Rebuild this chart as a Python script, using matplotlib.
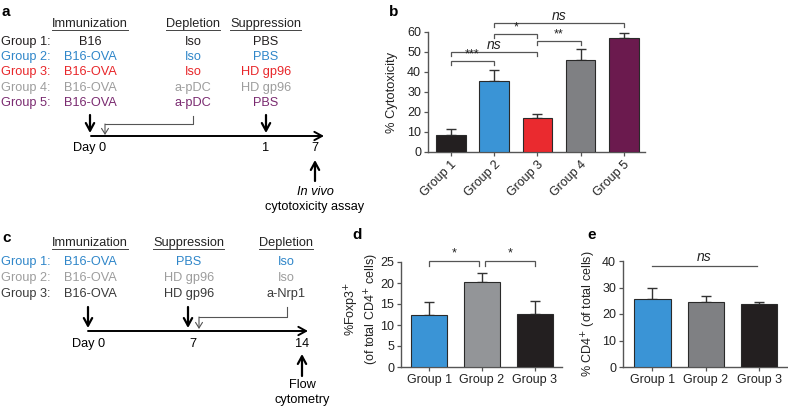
import numpy as np
import matplotlib
matplotlib.use("Agg")
import matplotlib.pyplot as plt

plt.rcParams['font.family'] = ['Liberation Sans', 'DejaVu Sans']

W, H = 788, 408

# ---- colours
BLACK = "#231f20"
BLUE = "#3a94d6"
RED = "#ea2a2f"
GREY = "#7f8083"
LGREY = "#939598"
PURPLE = "#6b1a4e"
T_BLUE = "#2f86c9"
T_RED = "#e8262a"
T_GREY = "#9d9d9d"
T_PURPLE = "#7a2a70"

# ---- panel a schematic text
a_groups = ["Group 1:", "Group 2:", "Group 3:", "Group 4:", "Group 5:"]
a_colors = [BLACK, T_BLUE, T_RED, T_GREY, T_PURPLE]
a_immun = ["B16", "B16-OVA", "B16-OVA", "B16-OVA", "B16-OVA"]
a_deplet = ["Iso", "Iso", "Iso", "a-pDC", "a-pDC"]
a_suppr = ["PBS", "PBS", "HD gp96", "HD gp96", "PBS"]

# ---- panel b
b_groups = ["Group 1", "Group 2", "Group 3", "Group 4", "Group 5"]
b_means = [8.7, 35.5, 17.0, 46.0, 57.0]
b_err = [2.6, 5.5, 2.0, 5.3, 2.3]
b_colors = [BLACK, BLUE, RED, GREY, PURPLE]
b_yticks = [0, 10, 20, 30, 40, 50, 60]
# (from, to, label, end height, top height)
b_brackets = [(0, 1, "***", 43.5, 45.5), (0, 2, "ns", 48.0, 50.2),
              (1, 2, "*", 56.8, 58.8), (2, 3, "**", 53.5, 55.5),
              (1, 4, "ns", 62.3, 64.3)]

# ---- panel c schematic text
c_groups = ["Group 1:", "Group 2:", "Group 3:"]
c_colors = [T_BLUE, T_GREY, "#3a3a3a"]
c_immun = ["B16-OVA", "B16-OVA", "B16-OVA"]
c_suppr = ["PBS", "HD gp96", "HD gp96"]
c_deplet = ["Iso", "Iso", "a-Nrp1"]

# ---- panel d
d_groups = ["Group 1", "Group 2", "Group 3"]
d_means = [12.5, 20.2, 12.7]
d_err = [3.0, 2.3, 3.0]
d_colors = [BLUE, LGREY, BLACK]
d_yticks = [0, 5, 10, 15, 20, 25]
d_brackets = [(0, 0.94, "*", 24.0, 25.2), (1.06, 2, "*", 24.0, 25.2)]

# ---- panel e
e_groups = ["Group 1", "Group 2", "Group 3"]
e_means = [25.5, 24.6, 23.8]
e_err = [4.2, 2.3, 0.7]
e_colors = [BLUE, GREY, BLACK]
e_yticks = [0, 10, 20, 30, 40]
e_line = (0, 1.95, "ns", 38.2)


def px_axes(fig, x0, y0, x1, y1):
    # pixel box (top-left origin) -> figure fraction axes
    return fig.add_axes([x0 / W, (H - y1) / H, (x1 - x0) / W, (y1 - y0) / H])


def bar_panel(ax, means, err, colors, labels, yticks, xlim, fs):
    x = np.arange(len(means))
    ax.bar(x, means, width=0.68, color=colors, edgecolor="#2a2a2a",
           linewidth=0.8, zorder=3)
    ax.errorbar(x, means, yerr=[np.zeros(len(err)), err], fmt="none",
                ecolor="#333333", elinewidth=1.0, capsize=3.6, capthick=1.0,
                zorder=2)
    ax.set_xlim(*xlim)
    ax.set_ylim(yticks[0], yticks[-1])
    ax.set_yticks(yticks)
    ax.set_xticks(x)
    ax.set_xticklabels(labels)
    for s in ["top", "right"]:
        ax.spines[s].set_visible(False)
    for s in ["left", "bottom"]:
        ax.spines[s].set_color("#555555")
        ax.spines[s].set_linewidth(1.0)
    ax.tick_params(direction="out", length=3, width=0.9, color="#555555",
                   labelsize=fs, pad=2, labelcolor="#222222")
    ax.patch.set_alpha(0)


def bracket(ax, x0, x1, lab, y_end, y_top, fs_star=9, fs_ns=10):
    ax.plot([x0, x0, x1, x1], [y_end, y_top, y_top, y_end], color="#555555",
            lw=0.9, clip_on=False, solid_joinstyle="miter")
    if lab == "ns":
        ax.text((x0 + x1) / 2, y_top, "ns", style="italic", fontsize=fs_ns,
                ha="center", va="bottom", color="#222222")
    else:
        ax.text((x0 + x1) / 2, y_top + 0.3, lab, fontsize=fs_star,
                ha="center", va="bottom", color="#222222")


fig = plt.figure(figsize=(W / 100, H / 100), dpi=100)

# ---------------- schematics (pixel coordinates)
sk = fig.add_axes([0, 0, 1, 1])
sk.set_xlim(0, W)
sk.set_ylim(H, 0)
sk.axis("off")

FS = 9.2
headers = []


def header(x, y, s):
    t = sk.text(x, y, s, fontsize=FS, ha="center", va="center", color="#222222")
    headers.append((t, y))


def line_arrow(x0, y0, x1, y1, lw=1.6, color="black", hw=0.3, hl=0.55):
    sk.annotate("", xy=(x1, y1), xytext=(x0, y0),
                arrowprops=dict(arrowstyle="->,head_width=%g,head_length=%g" % (hw, hl),
                                lw=lw, color=color, shrinkA=0, shrinkB=0))


# panel a
sk.text(2, 12, "a", fontsize=11, fontweight="bold", ha="left", va="center")
header(90, 24, "Immunization")
header(193, 24, "Depletion")
header(266, 24, "Suppression")
a_rows = [42, 57, 72, 88, 103]
for i, y in enumerate(a_rows):
    c = a_colors[i]
    sk.text(1, y, a_groups[i], fontsize=FS, color=c, ha="left", va="center")
    sk.text(90, y, a_immun[i], fontsize=FS, color=c, ha="center", va="center")
    sk.text(193, y, a_deplet[i], fontsize=FS, color=c, ha="center", va="center")
    sk.text(266, y, a_suppr[i], fontsize=FS, color=c, ha="center", va="center")
line_arrow(90, 115, 90, 133)
line_arrow(266, 115, 266, 133)
sk.plot([193, 193, 105], [116, 124, 124], color="#555555", lw=0.8)
line_arrow(105, 124, 105, 135, lw=0.8, color="#555555", hw=0.25, hl=0.4)
line_arrow(91, 136, 324, 136, lw=1.4)
sk.text(90, 148, "Day 0", fontsize=FS, ha="center", va="center")
sk.text(266, 148, "1", fontsize=FS, ha="center", va="center")
sk.text(315, 148, "7", fontsize=FS, ha="center", va="center")
line_arrow(315, 181, 315, 160)
sk.text(315, 192, "In vivo", fontsize=FS, style="italic", ha="center", va="center")
sk.text(315, 207, "cytotoxicity assay", fontsize=FS, ha="center", va="center")

# panel c
sk.text(2, 238, "c", fontsize=11, fontweight="bold", ha="left", va="center")
header(90, 243, "Immunization")
header(189, 243, "Suppression")
header(286, 243, "Depletion")
c_rows = [262, 278, 294]
for i, y in enumerate(c_rows):
    c = c_colors[i]
    sk.text(1, y, c_groups[i], fontsize=FS, color=c, ha="left", va="center")
    sk.text(90, y, c_immun[i], fontsize=FS, color=c, ha="center", va="center")
    sk.text(189, y, c_suppr[i], fontsize=FS, color=c, ha="center", va="center")
    sk.text(286, y, c_deplet[i], fontsize=FS, color=c, ha="center", va="center")
line_arrow(88, 307, 88, 328)
line_arrow(188, 307, 188, 328)
sk.plot([287, 287, 199], [307, 317, 317], color="#555555", lw=0.8)
line_arrow(199, 317, 199, 329, lw=0.8, color="#555555", hw=0.25, hl=0.4)
line_arrow(88, 331, 308, 331, lw=1.4)
sk.text(89, 344, "Day 0", fontsize=FS, ha="center", va="center")
sk.text(193, 344, "7", fontsize=FS, ha="center", va="center")
sk.text(302, 344, "14", fontsize=FS, ha="center", va="center")
line_arrow(302, 376, 302, 354)
sk.text(302, 385, "Flow", fontsize=FS, ha="center", va="center")
sk.text(302, 400, "cytometry", fontsize=FS, ha="center", va="center")

# underline headers using rendered text widths
fig.canvas.draw()
inv = sk.transData.inverted()
for t, y in headers:
    bb = t.get_window_extent()
    (xa, _), (xb, _) = inv.transform([(bb.x0, bb.y0), (bb.x1, bb.y0)])
    sk.plot([xa, xb], [y + 6, y + 6], color="#444444", lw=0.7)

# ---------------- panel b
axb = px_axes(fig, 428, 32, 645, 152)
bar_panel(axb, b_means, b_err, b_colors, b_groups, b_yticks, (-0.53, 4.49), 9)
plt.setp(axb.get_xticklabels(), rotation=45, ha="right", rotation_mode="anchor")
axb.set_ylabel("% Cytotoxicity", fontsize=9.3, color="#222222")
axb.yaxis.set_label_coords(-0.14, 0.5)
for x0, x1, lab, ye, yt in b_brackets:
    bracket(axb, x0, x1, lab, ye, yt)
fig.text(389 / W, 1 - 12 / H, "b", fontsize=11, fontweight="bold", va="center")

# ---------------- panel d
axd = px_axes(fig, 401, 262, 562, 367)
bar_panel(axd, d_means, d_err, d_colors, d_groups, d_yticks, (-0.53, 2.51), 9)
axd.set_ylabel("%Foxp3$^{+}$\n(of total CD4$^{+}$ cells)", fontsize=9,
               color="#222222", linespacing=1.15)
axd.yaxis.set_label_coords(-0.125, 0.55)
for x0, x1, lab, ye, yt in d_brackets:
    bracket(axd, x0, x1, lab, ye, yt)
fig.text(352 / W, 1 - 235 / H, "d", fontsize=11, fontweight="bold", va="center")

# ---------------- panel e
axe = px_axes(fig, 623, 261, 787, 367)
bar_panel(axe, e_means, e_err, e_colors, e_groups, e_yticks, (-0.55, 2.52), 9)
axe.set_ylabel("% CD4$^{+}$ (of total cells)", fontsize=9, color="#222222")
axe.yaxis.set_label_coords(-0.15, 0.5)
x0, x1, lab, ye = e_line
axe.plot([x0, x1], [ye, ye], color="#555555", lw=0.9, clip_on=False)
axe.text((x0 + x1) / 2, ye + 0.5, lab, style="italic", fontsize=10,
         ha="center", va="bottom", color="#222222")
fig.text(587 / W, 1 - 235 / H, "e", fontsize=11, fontweight="bold", va="center")

fig.savefig("out.png", dpi=100)
print("Saved: out.png")
